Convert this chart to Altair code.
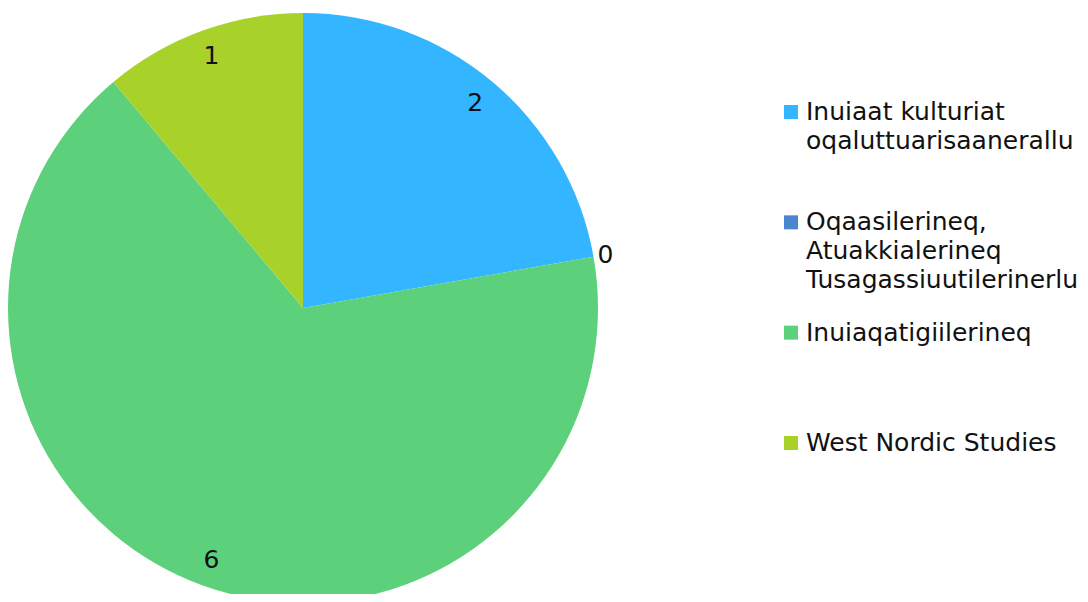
import altair as alt
import pandas as pd

categories = [
    "Inuiaat kulturiat\noqaluttuarisaanerallu",
    "Oqaasilerineq,\nAtuakkialerineq\nTusagassiuutilerinerlu",
    "Inuiaqatigiilerineq",
    "West Nordic Studies",
]
values = [2, 0, 6, 1]
colors = ["#33B5FF", "#4A86D0", "#5CD07A", "#A8D22A"]

df = pd.DataFrame({"category": categories, "value": values, "idx": list(range(len(values)))})

FONT = "DejaVu Sans"
CX, CY, R = 295, 300, 295

color_scale = alt.Scale(domain=categories, range=colors)

pie = alt.Chart(df).mark_arc(outerRadius=R).encode(
    theta=alt.Theta("value:Q", stack=True),
    order=alt.Order("idx:Q"),
    x=alt.value(CX),
    y=alt.value(CY),
    color=alt.Color("category:N", scale=color_scale, legend=None),
)

labels = alt.Chart(df).transform_joinaggregate(
    total="sum(value)"
).transform_window(
    cum="sum(value)", sort=[alt.SortField("idx")], frame=[None, 0]
).transform_calculate(
    mid="(datum.cum - datum.value / 2) / datum.total * 2 * PI",
    lr="datum.value == 0 ? 307 : 268",
).mark_text(font=FONT, fontSize=25, color="#111", align="center", baseline="middle").encode(
    x=alt.value(CX),
    y=alt.value(CY),
    theta=alt.Theta("mid:Q", scale=None),
    radius=alt.Radius("lr:Q", scale=None),
    text=alt.Text("value:Q"),
)

ypos = alt.Y("category:N", sort=categories, scale=alt.Scale(type="point", range=[104, 435], padding=0), axis=None)

leg_sq = alt.Chart(df).mark_square(size=196, opacity=1).encode(
    x=alt.value(783),
    y=ypos,
    color=alt.Color("category:N", scale=color_scale, legend=None),
)

leg_txt = alt.Chart(df).mark_text(
    font=FONT, fontSize=25, color="#111", align="left", baseline="alphabetic",
    dy=8, lineBreak="\n", lineHeight=29,
).encode(
    x=alt.value(798),
    y=ypos,
    text="category:N",
)

chart = alt.layer(pie, labels, leg_sq, leg_txt).properties(
    width=1072, height=586, padding=0, autosize=alt.AutoSizeParams(type="none"),
).configure_view(stroke=None)

chart.save("out.html", embed_options={"renderer": "svg", "actions": False})
